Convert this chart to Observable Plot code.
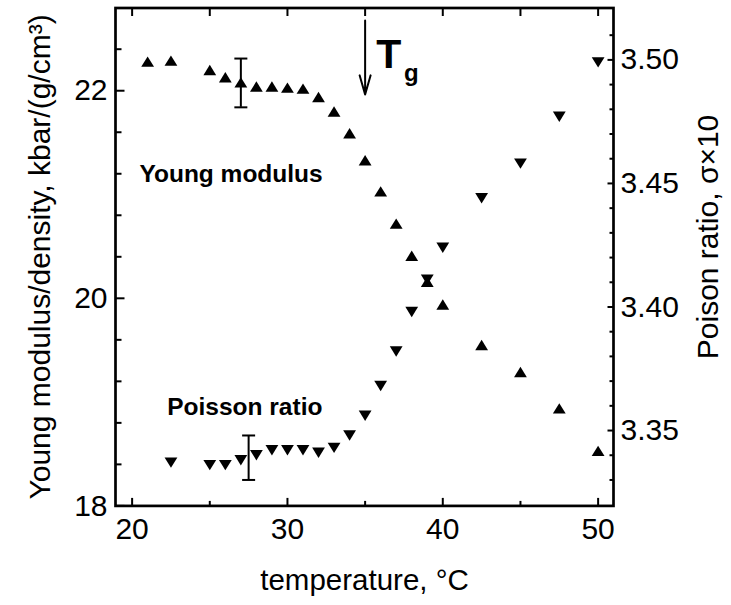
<!DOCTYPE html>
<html><head><meta charset="utf-8">
<script src="https://cdn.jsdelivr.net/npm/d3@7"></script>
<script src="https://cdn.jsdelivr.net/npm/@observablehq/plot@0.6"></script>
<style>body{margin:0;background:#fff} svg{display:block}</style>
</head><body><div id="chart"></div>
<script>
// Young modulus / density (left axis, kbar/(g/cm^3))
const youngT = [21, 22.5, 25, 26, 27, 28, 29, 30, 31, 32, 33, 34, 35, 36, 37, 38, 39, 40, 42.5, 45, 47.5, 50];
const youngV = [22.28, 22.29, 22.20, 22.13, 22.08, 22.04, 22.04, 22.03, 22.02, 21.94, 21.80, 21.59, 21.33, 21.03, 20.72, 20.41, 20.16, 19.94, 19.55, 19.29, 18.94, 18.53];
// Poisson ratio x10 (right axis)
const poissonT = [22.5, 25, 26, 27, 28, 29, 30, 31, 32, 33, 34, 35, 36, 37, 38, 39, 40, 42.5, 45, 47.5, 50];
const poissonV = [3.337, 3.336, 3.336, 3.338, 3.340, 3.342, 3.342, 3.342, 3.341, 3.343, 3.348, 3.356, 3.368, 3.382, 3.398, 3.411, 3.424, 3.444, 3.458, 3.477, 3.499];
// error bars
const youngErrT = [27], youngErrLow = [21.84], youngErrHigh = [22.31];
const poissonErrT = [27.5], poissonErrLow = [3.330], poissonErrHigh = [3.348];
// axes
const xDomain = [18.93, 50.99];
const yDomain = [18, 22.797];
const pDomain = [3.3195, 3.521];
const xMajor = [20, 30, 40, 50];
const xMinor = [25, 35, 45];
const yMajor = [18, 20, 22];
const yMinor = [18.4, 18.8, 19.2, 19.6, 20.4, 20.8, 21.2, 21.6, 22.4];
const pMajor = [3.35, 3.40, 3.45, 3.50];
const pMinor = [3.33, 3.34, 3.36, 3.37, 3.38, 3.39, 3.41, 3.42, 3.43, 3.44, 3.46, 3.47, 3.48, 3.49, 3.51];
// annotations
const tgArrowX = [35], tgArrowY1 = [22.676], tgArrowY2 = [21.963];

const toY = p => yDomain[0] + (p - pDomain[0]) * (yDomain[1] - yDomain[0]) / (pDomain[1] - pDomain[0]);
const toP = y => pDomain[0] + (y - yDomain[0]) * (pDomain[1] - pDomain[0]) / (yDomain[1] - yDomain[0]);

const young = youngT.map((t, i) => ({t, v: youngV[i]}));
const poisson = poissonT.map((t, i) => ({t, v: toY(poissonV[i])}));
const errs = [
  ...youngErrT.map((t, i) => ({t, lo: youngErrLow[i], hi: youngErrHigh[i]})),
  ...poissonErrT.map((t, i) => ({t, lo: toY(poissonErrLow[i]), hi: toY(poissonErrHigh[i])}))
];

const triUp = {draw(c){c.moveTo(0,-5.2);c.lineTo(6.4,5.2);c.lineTo(-6.4,5.2);c.closePath();}};
const triDown = {draw(c){c.moveTo(0,5.2);c.lineTo(6.4,-5.2);c.lineTo(-6.4,-5.2);c.closePath();}};
const cap = {draw(c){c.moveTo(-6.5,0);c.lineTo(6.5,0);}};
const tk = (dx, dy, len) => ({draw(c){c.moveTo(0,0);c.lineTo(dx*len, dy*len);}});

const font = "'Liberation Sans', Arial, Helvetica, sans-serif";
const tickStyle = {stroke: "black", fill: "none", strokeWidth: 2};

const chart = Plot.plot({
  width: 731, height: 605,
  marginLeft: 115, marginRight: 118, marginTop: 7.5, marginBottom: 99.6,
  style: {fontFamily: font, background: "white", color: "black"},
  x: {domain: xDomain},
  y: {domain: yDomain},
  marks: [
    // ticks (inward)
    Plot.dot(xMajor, {x: d => d, frameAnchor: "bottom", symbol: tk(0, -1, 8), ...tickStyle}),
    Plot.dot(xMinor, {x: d => d, frameAnchor: "bottom", symbol: tk(0, -1, 5), ...tickStyle}),
    Plot.dot([...xMajor, ...xMinor], {x: d => d, frameAnchor: "top", symbol: tk(0, 1, 8), ...tickStyle}),
    Plot.dot(yMajor, {y: d => d, frameAnchor: "left", symbol: tk(1, 0, 9), ...tickStyle}),
    Plot.dot(yMinor, {y: d => d, frameAnchor: "left", symbol: tk(1, 0, 6), ...tickStyle}),
    Plot.dot(pMajor.map(toY), {y: d => d, frameAnchor: "right", symbol: tk(-1, 0, 6), ...tickStyle}),
    Plot.dot(pMinor.map(toY), {y: d => d, frameAnchor: "right", symbol: tk(-1, 0, 4), ...tickStyle}),
    Plot.frame({stroke: "black", strokeWidth: 2.7}),
    // tick labels
    Plot.axisX(xMajor, {anchor: "bottom", tickSize: 0, tickPadding: 12, fontSize: 30, label: null, tickFormat: d => String(d)}),
    Plot.axisY(yMajor, {anchor: "left", tickSize: 0, tickPadding: 8, fontSize: 30, label: null, tickFormat: d => String(d)}),
    Plot.axisY(pMajor.map(toY), {anchor: "right", tickSize: 0, tickPadding: 7, fontSize: 30, label: null,
      tickFormat: y => toP(y).toFixed(2)}),
    // axis titles
    Plot.text(["temperature, °C"], {frameAnchor: "bottom", dy: 84, textAnchor: "middle", lineAnchor: "bottom", fontSize: 29.5, fill: "black"}),
    Plot.text(["Young modulus/density, kbar/(g/cm³)"], {frameAnchor: "left", dx: -66, textAnchor: "middle", rotate: -90, lineAnchor: "bottom", fontSize: 30, fill: "black"}),
    Plot.text(["Poison ratio, σ×10"], {frameAnchor: "right", dx: 104, dy: -20, textAnchor: "middle", rotate: -90, lineAnchor: "bottom", fontSize: 30, fill: "black"}),
    // error bars
    Plot.ruleX(errs, {x: "t", y1: "lo", y2: "hi", stroke: "black", strokeWidth: 2}),
    Plot.dot(errs, {x: "t", y: "lo", symbol: cap, stroke: "black", fill: "none", strokeWidth: 2}),
    Plot.dot(errs, {x: "t", y: "hi", symbol: cap, stroke: "black", fill: "none", strokeWidth: 2}),
    // data
    Plot.dot(young, {x: "t", y: "v", symbol: triUp, fill: "black", stroke: "none"}),
    Plot.dot(poisson, {x: "t", y: "v", symbol: triDown, fill: "black", stroke: "none"}),
    // annotations
    Plot.text(["Young modulus"], {x: 20.47, y: 21.119, textAnchor: "start", lineAnchor: "bottom", fontSize: 24.5, fontWeight: "bold", fill: "black"}),
    Plot.text(["Poisson ratio"], {x: 22.26, y: 18.871, textAnchor: "start", lineAnchor: "bottom", fontSize: 24.5, fontWeight: "bold", fill: "black"}),
    Plot.arrow(tgArrowX.map((x, i) => ({x, y1: tgArrowY1[i], y2: tgArrowY2[i]})), {x1: "x", x2: "x", y1: "y1", y2: "y2", stroke: "black", strokeWidth: 2, headLength: 15, headAngle: 32}),
    Plot.text(["T"], {x: 35.72, y: 22.221, textAnchor: "start", lineAnchor: "bottom", fontSize: 41, fontWeight: "bold", fill: "black"}),
    Plot.text(["g"], {x: 37.51, y: 22.093, textAnchor: "start", lineAnchor: "bottom", fontSize: 24, fontWeight: "bold", fill: "black"})
  ]
});
document.getElementById("chart").append(chart);
</script>
</body></html>
